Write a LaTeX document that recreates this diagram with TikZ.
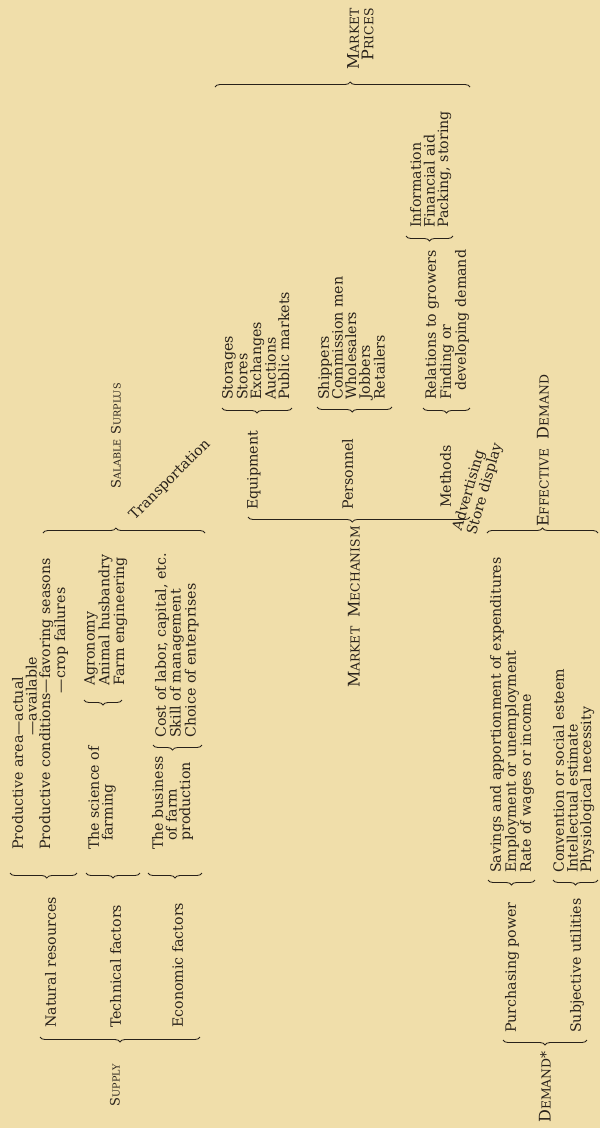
\documentclass[tikz,border=0pt]{standalone}
\usepackage{fontspec}
\setmainfont{DejaVu Serif}
\usetikzlibrary{decorations.pathreplacing}
\definecolor{paper}{RGB}{240,222,170}
\definecolor{ink}{RGB}{40,33,26}
\newcommand\SC[2]{{\fontsize{13}{13}\selectfont #1}{\fontsize{9.6}{13}\selectfont #2}}
\newcommand\SCB[2]{{\fontsize{16}{13}\selectfont #1}{\fontsize{12.4}{13}\selectfont #2}}
\begin{document}
\begin{tikzpicture}[x=1pt,y=-1pt,
  tx/.style={inner sep=0pt, align=left, text=ink, font=\fontsize{14.2}{13.6}\selectfont},
  txt/.style={tx, rotate=90},
  br/.style={draw=ink, line width=0.85pt, decorate, decoration={brace, amplitude=5pt, aspect=#1}},
  br/.default=0.5]
\fill[paper] (0,0) rectangle (600,1128);
\useasboundingbox (0,0) rectangle (600,1128);

% ---------- Supply ----------
\node[txt, anchor=north west] (prod) at (12,850) {Productive area---actual\\\phantom{Productive area}---available\\Productive conditions---favoring seasons\\\phantom{Productive conditions}---crop failures};
\node[txt, anchor=north west] (natres) at (45,1028) {Natural resources};
\node[txt, anchor=north west] (techf) at (110,1028) {Technical factors};
\node[txt, anchor=north west] (econf) at (172,1028) {Economic factors};
\node[txt, anchor=north west] (sci) at (88,850) {The science of\\\hspace*{9pt}farming};
\node[txt, anchor=north west] (bus) at (152,850) {The business\\\hspace*{9pt}of farm\\\hspace*{9pt}production};
\node[txt, anchor=north west] (agro) at (84,686) {Agronomy\\Animal husbandry\\Farm engineering};
\node[txt, anchor=north west] (cost) at (155,738) {Cost of labor, capital, etc.\\Skill of management\\Choice of enterprises};
\node[txt] (supply) at (115,1085) {\SC{S}{UPPLY}};
\node[txt] (salable) at (116,436) {\SC{S}{ALABLE} \SC{S}{URPLUS}};
\node[tx, rotate=45] (transp) at (170,480) {Transportation};

\coordinate (b1a) at (200,1037); \coordinate (b1b) at (40,1037);
\coordinate (b2a) at (77,873);   \coordinate (b2b) at (10,873);
\coordinate (b3a) at (140,873);  \coordinate (b3b) at (86,873);
\coordinate (b4a) at (202,873);  \coordinate (b4b) at (148,873);
\coordinate (b6a) at (122,700);  \coordinate (b6b) at (84,700);
\coordinate (b7a) at (202,745);  \coordinate (b7b) at (153,745);
\coordinate (b8a) at (43,533);   \coordinate (b8b) at (205,533);
\draw[br] (b1a) -- (b1b);
\draw[br=0.45] (b2a) -- (b2b);
\draw[br] (b3a) -- (b3b);
\draw[br] (b4a) -- (b4b);
\draw[br] (b6a) -- (b6b);
\draw[br=0.6] (b7a) -- (b7b);
\draw[br=0.45] (b8a) -- (b8b);

% ---------- Market ----------
\node[txt] (mech) at (354,607) {\SCB{M}{ARKET}\hspace{9pt}\SCB{M}{ECHANISM}};
\node[txt, anchor=north west] (equip) at (247,510) {Equipment};
\node[txt, anchor=north west] (pers) at (342,510) {Personnel};
\node[txt, anchor=north west] (meth) at (440,508) {Methods};
\node[txt, anchor=north west] (stor) at (222,400) {Storages\\Stores\\Exchanges\\Auctions\\Public markets};
\node[txt, anchor=north west] (ship) at (318,400) {Shippers\\Commission men\\Wholesalers\\Jobbers\\Retailers};
\node[txt, anchor=north west] (rel) at (425,400) {Relations to growers\\Finding or\\\hspace*{9pt}developing demand};
\node[txt, anchor=north west] (info) at (410,228) {Information\\Financial aid\\Packing, storing};
\node[txt, anchor=north east, align=right, font=\fontsize{16}{14.5}\selectfont] (prices) at (347,8) {\SCB{M}{ARKET}\\\SCB{P}{RICES}};

\coordinate (b9a) at (470,517);  \coordinate (b9b) at (248,517);
\coordinate (b10a) at (292,408); \coordinate (b10b) at (222,408);
\coordinate (b11a) at (392,407); \coordinate (b11b) at (317,407);
\coordinate (b12a) at (470,408); \coordinate (b12b) at (423,408);
\coordinate (b13a) at (453,236); \coordinate (b13b) at (406,236);
\coordinate (b14a) at (215,87);  \coordinate (b14b) at (470,87);
\draw[br=0.53] (b9a) -- (b9b);
\draw[br] (b10a) -- (b10b);
\draw[br=0.53] (b11a) -- (b11b);
\draw[br] (b12a) -- (b12b);
\draw[br] (b13a) -- (b13b);
\draw[br=0.53] (b14a) -- (b14b);

% ---------- Demand ----------
\node[txt] (demand) at (545,1087) {\SCB{D}{EMAND}{\fontsize{14}{13}\selectfont *}};
\node[txt, anchor=north west] (purch) at (505,1033) {Purchasing power};
\node[txt, anchor=north west] (subj) at (570,1033) {Subjective utilities};
\node[txt, anchor=north west] (sav) at (490,873) {Savings and apportionment of expenditures\\Employment or unemployment\\Rate of wages or income};
\node[txt, anchor=north west] (conv) at (553,873) {Convention or social esteem\\Intellectual estimate\\Physiological necessity};
\node[txt] (effd) at (543,451) {\SCB{E}{FFECTIVE}\hspace{9pt}\SCB{D}{EMAND}};
\node[tx, rotate=74] (adv) at (478,487) {Advertising\\Store display};

\coordinate (b15a) at (587,1040); \coordinate (b15b) at (503,1040);
\coordinate (b16a) at (535,880);  \coordinate (b16b) at (488,880);
\coordinate (b17a) at (598,880);  \coordinate (b17b) at (553,880);
\coordinate (b18a) at (487,533);  \coordinate (b18b) at (598,533);
\draw[br] (b15a) -- (b15b);
\draw[br] (b16a) -- (b16b);
\draw[br] (b17a) -- (b17b);
\draw[br] (b18a) -- (b18b);
\end{tikzpicture}
\end{document}
